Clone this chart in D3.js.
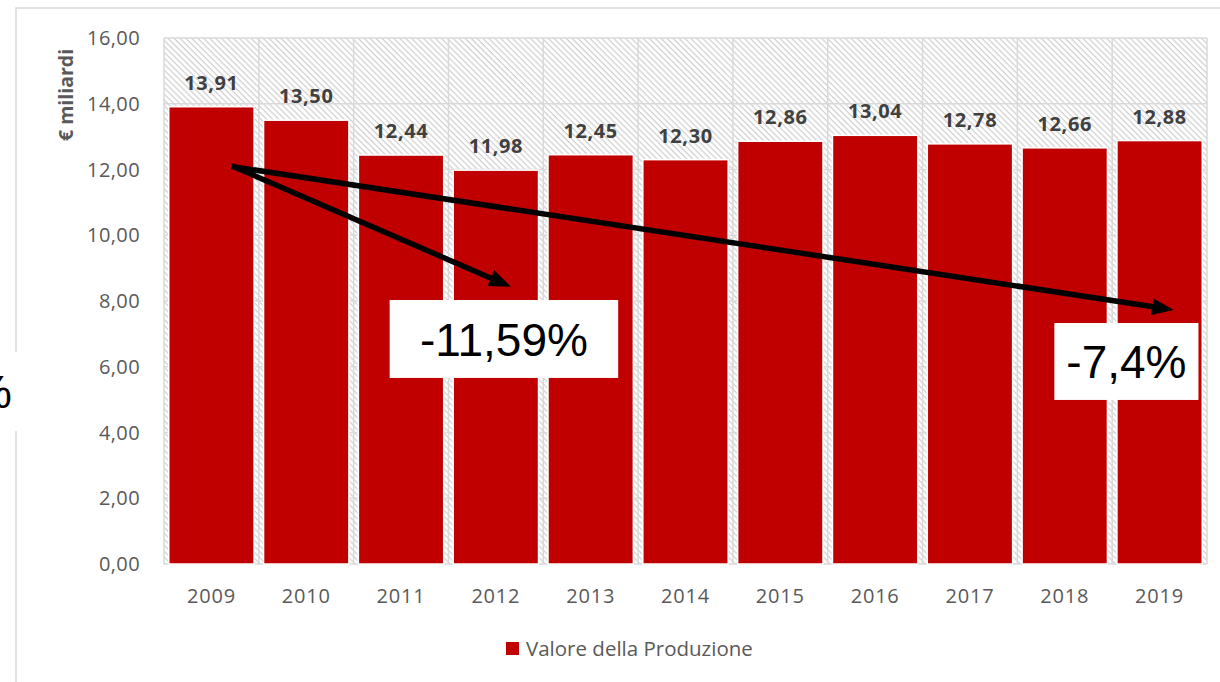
<!DOCTYPE html>
<html>
<head>
<meta charset="utf-8">
<script src="https://cdn.jsdelivr.net/npm/d3@7"></script>
<style>
  html, body { margin: 0; padding: 0; background: #fff; }
  svg { display: block; }
</style>
</head>
<body>
<div id="chart"></div>
<script>
// --- data ---
const years = ['2009', '2010', '2011', '2012', '2013', '2014', '2015', '2016', '2017', '2018', '2019'];
const valori = [13.91, 13.50, 12.44, 11.98, 12.45, 12.30, 12.86, 13.04, 12.78, 12.66, 12.88];
const yTicks = [0, 2, 4, 6, 8, 10, 12, 14, 16];
const seriesName = 'Valore della Produzione';
const yLabel = '€ miliardi';

// arrows: start/end given as [year, fraction of band, value]
const arrows = [
    { from: ['2009', 0.69, 12.08], to: ['2012', 0.61, 8.43] },
    { from: ['2009', 0.69, 12.08], to: ['2019', 0.60, 7.73] }
];
// boxes: [year, band fraction] for left/right, values for top/bottom
const boxes = [
    { text: '-11,59%', x0: ['2011', 0.33], x1: ['2011', 2.74], top: 8.03, bottom: 5.66 },
    { text: '-7,4%', x0: ['2019', -0.66], x1: ['2019', 0.86], top: 7.33, bottom: 4.99 }
];

const W = 1220, H = 682;
const plot = { left: 164, top: 38, right: 1207, bottom: 564 };

const it = d3.formatLocale({ decimal: ',', thousands: '.', grouping: [3], currency: ['€', ''] });
const fmt = it.format('.2f');

const svg = d3.select('#chart').append('svg')
    .attr('width', W)
    .attr('height', H);

const defs = svg.append('defs');

// light diagonal hatch for the plot area
const hatch = defs.append('pattern')
    .attr('id', 'hatch')
    .attr('patternUnits', 'userSpaceOnUse')
    .attr('width', 4.2)
    .attr('height', 4.2)
    .attr('patternTransform', 'rotate(45)');
hatch.append('rect').attr('width', 4.2).attr('height', 4.2).attr('fill', '#fff');
hatch.append('line')
    .attr('x1', 0).attr('y1', 0.6).attr('x2', 4.2).attr('y2', 0.6)
    .attr('stroke', '#cfcfcf')
    .attr('stroke-width', 1.2);

defs.append('marker')
    .attr('id', 'head')
    .attr('markerUnits', 'userSpaceOnUse')
    .attr('viewBox', '0 -9 22 18')
    .attr('markerWidth', 22)
    .attr('markerHeight', 18)
    .attr('refX', 22)
    .attr('refY', 0)
    .attr('orient', 'auto')
    .append('path')
    .attr('d', 'M0,-8.5L22,0L0,8.5Z')
    .attr('fill', '#000');

// outer chart border (top + left)
svg.append('path')
    .attr('d', `M16,${H}V8H${W}`)
    .attr('fill', 'none')
    .attr('stroke', '#d9d9d9')
    .attr('stroke-width', 1.5);

const x = d3.scaleBand()
    .domain(years)
    .range([plot.left, plot.right])
    .paddingInner(0.1)
    .paddingOuter(0.05);

const y = d3.scaleLinear()
    .domain([0, 16])
    .range([plot.bottom, plot.top]);

const xAt = (yr, f) => x(yr) + f * x.step();

// plot background
svg.append('rect')
    .attr('x', plot.left)
    .attr('y', plot.top)
    .attr('width', plot.right - plot.left)
    .attr('height', plot.bottom - plot.top)
    .attr('fill', 'url(#hatch)');

// gridlines
svg.append('g')
    .selectAll('line')
    .data(yTicks)
    .enter()
    .append('line')
    .attr('x1', plot.left)
    .attr('x2', plot.right)
    .attr('y1', d => y(d))
    .attr('y2', d => y(d))
    .attr('stroke', '#d9d9d9')
    .attr('stroke-width', 1.5);

const bounds = years.map(d => x(d) - x.step() * x.paddingInner() / 2)
    .concat([plot.right]);
svg.append('g')
    .selectAll('line')
    .data(bounds)
    .enter()
    .append('line')
    .attr('x1', d => d)
    .attr('x2', d => d)
    .attr('y1', plot.top)
    .attr('y2', plot.bottom)
    .attr('stroke', '#d9d9d9')
    .attr('stroke-width', 1.5);

// bars
svg.append('g')
    .selectAll('rect')
    .data(valori)
    .enter()
    .append('rect')
    .attr('x', (d, i) => x(years[i]))
    .attr('y', d => y(d))
    .attr('width', x.bandwidth())
    .attr('height', d => y(0) - y(d))
    .attr('fill', '#c00000')
    .attr('stroke', '#fff')
    .attr('stroke-width', 1.5);

// data labels
svg.append('g')
    .selectAll('text')
    .data(valori)
    .enter()
    .append('text')
    .attr('x', (d, i) => x(years[i]) + x.bandwidth() / 2)
    .attr('y', d => y(d) - 17)
    .attr('text-anchor', 'middle')
    .style('font-family', '"Open Sans", sans-serif')
    .style('font-weight', 'bold')
    .style('font-size', '20px')
    .style('letter-spacing', '0.6px')
    .style('fill', '#404040')
    .text(d => fmt(d));

// y tick labels
svg.append('g')
    .selectAll('text')
    .data(yTicks)
    .enter()
    .append('text')
    .attr('x', 140)
    .attr('y', d => y(d))
    .attr('dy', '0.36em')
    .attr('text-anchor', 'end')
    .style('font-family', '"Open Sans", sans-serif')
    .style('font-size', '20px')
    .style('letter-spacing', '0.4px')
    .style('fill', '#595959')
    .text(d => fmt(d));

// x tick labels
svg.append('g')
    .selectAll('text')
    .data(years)
    .enter()
    .append('text')
    .attr('x', d => x(d) + x.bandwidth() / 2)
    .attr('y', 603)
    .attr('text-anchor', 'middle')
    .style('font-family', '"Open Sans", sans-serif')
    .style('font-size', '20px')
    .style('letter-spacing', '0.8px')
    .style('fill', '#595959')
    .text(d => d);

// y axis title
svg.append('text')
    .attr('transform', 'translate(73,95) rotate(-90)')
    .attr('text-anchor', 'middle')
    .style('font-family', '"Open Sans", sans-serif')
    .style('font-weight', 'bold')
    .style('font-size', '19.5px')
    .style('fill', '#595959')
    .text(yLabel);

// arrows
arrows.forEach(a => {
    const x1 = xAt(a.from[0], a.from[1]), y1 = y(a.from[2]);
    const x2 = xAt(a.to[0], a.to[1]), y2 = y(a.to[2]);
    const len = Math.hypot(x2 - x1, y2 - y1);
    const back = 12;
    svg.append('line')
        .attr('x1', x1).attr('y1', y1)
        .attr('x2', x2 - (x2 - x1) / len * back)
        .attr('y2', y2 - (y2 - y1) / len * back)
        .attr('stroke', '#000')
        .attr('stroke-width', 5.5)
        .attr('stroke-linecap', 'square');
    svg.append('line')
        .attr('x1', x2 - (x2 - x1) / len * 13)
        .attr('y1', y2 - (y2 - y1) / len * 13)
        .attr('x2', x2).attr('y2', y2)
        .attr('stroke', 'none')
        .attr('marker-end', 'url(#head)');
});

// percentage boxes
boxes.forEach(b => {
    const bx0 = xAt(b.x0[0], b.x0[1]), bx1 = xAt(b.x1[0], b.x1[1]);
    const by0 = y(b.top), by1 = y(b.bottom);
    svg.append('rect')
        .attr('x', bx0).attr('y', by0)
        .attr('width', bx1 - bx0).attr('height', by1 - by0)
        .attr('fill', '#fff');
    svg.append('text')
        .attr('x', (bx0 + bx1) / 2)
        .attr('y', by1 - 22)
        .attr('text-anchor', 'middle')
        .style('font-family', '"Liberation Sans", Arial, sans-serif')
        .style('font-size', '46px')
        .style('fill', '#000')
        .text(b.text);
});

// box cut off by the left edge (as in the original picture)
svg.append('rect')
    .attr('x', -300).attr('y', 352)
    .attr('width', 322).attr('height', 79)
    .attr('fill', '#fff');
svg.append('text')
    .attr('x', 12)
    .attr('y', 408)
    .attr('text-anchor', 'end')
    .style('font-family', '"Liberation Sans", Arial, sans-serif')
    .style('font-size', '46px')
    .style('fill', '#000')
    .text('-12,5%');

// legend
const legend = svg.append('g').attr('transform', 'translate(506,642)');
legend.append('rect')
    .attr('width', 13)
    .attr('height', 13)
    .attr('fill', '#c00000');
legend.append('text')
    .attr('x', 20)
    .attr('y', 13.5)
    .style('font-family', '"Open Sans", sans-serif')
    .style('font-size', '20.5px')
    .style('fill', '#595959')
    .text(seriesName);
</script>
</body>
</html>
